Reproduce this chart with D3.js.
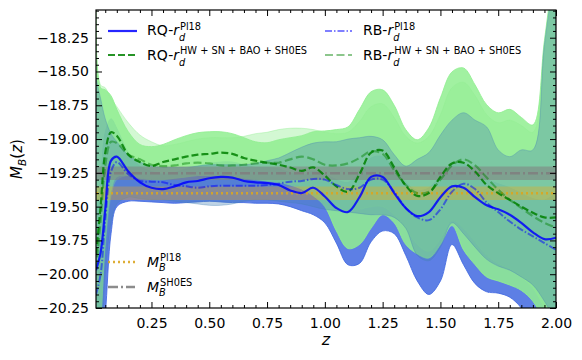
<!DOCTYPE html>
<html><head><meta charset="utf-8">
<script src="https://cdn.jsdelivr.net/npm/d3@7"></script>
<style>body{margin:0;background:#fff;} svg{display:block;font-family:"DejaVu Sans",sans-serif;}</style>
</head><body><svg id="c" width="582" height="360"></svg>
<script>
// ---------- data ----------
const zKnots = [0.01,0.03,0.05,0.075,0.1,0.15,0.2,0.25,0.3,0.35,0.4,0.45,0.5,0.55,0.6,0.65,0.7,0.75,0.8,0.85,0.9,0.95,1.0,1.05,1.1,1.15,1.2,1.25,1.3,1.35,1.4,1.45,1.5,1.55,1.6,1.65,1.7,1.75,1.8,1.85,1.9,1.95,2.0];

const rqPl18Mean = [-19.97,-19.84,-19.52,-19.16,-19.13,-19.24,-19.32,-19.36,-19.37,-19.35,-19.32,-19.31,-19.29,-19.28,-19.285,-19.31,-19.32,-19.325,-19.34,-19.38,-19.40,-19.36,-19.425,-19.51,-19.54,-19.43,-19.28,-19.28,-19.40,-19.51,-19.57,-19.54,-19.43,-19.35,-19.36,-19.43,-19.49,-19.52,-19.56,-19.62,-19.69,-19.74,-19.73];
const rqPl18Lo = [-20.7,-20.6,-20.3,-19.70,-19.50,-19.46,-19.46,-19.465,-19.47,-19.475,-19.47,-19.465,-19.46,-19.465,-19.47,-19.47,-19.475,-19.475,-19.48,-19.50,-19.53,-19.56,-19.62,-19.77,-19.93,-19.92,-19.76,-19.68,-19.70,-19.86,-20.05,-20.15,-20.05,-19.78,-19.93,-20.07,-20.13,-20.14,-20.17,-20.25,-20.40,-20.55,-20.70];
const rqPl18Hi = [-19.60,-19.30,-18.95,-18.85,-18.92,-19.10,-19.20,-19.24,-19.26,-19.25,-19.22,-19.20,-19.18,-19.17,-19.17,-19.19,-19.21,-19.21,-19.22,-19.25,-19.27,-19.24,-19.26,-19.30,-19.32,-19.25,-19.14,-19.13,-19.22,-19.32,-19.38,-19.36,-19.27,-19.18,-19.18,-19.25,-19.30,-19.33,-19.36,-19.40,-19.44,-19.45,-19.40];

const rbPl18Mean = [-20.15,-20.00,-19.60,-19.24,-19.17,-19.26,-19.31,-19.315,-19.32,-19.34,-19.35,-19.36,-19.35,-19.345,-19.345,-19.345,-19.345,-19.34,-19.33,-19.315,-19.31,-19.295,-19.30,-19.34,-19.37,-19.36,-19.30,-19.30,-19.39,-19.51,-19.58,-19.60,-19.52,-19.39,-19.33,-19.37,-19.47,-19.54,-19.61,-19.67,-19.72,-19.77,-19.82];
const rbPl18Lo = [-20.6,-20.5,-20.0,-19.62,-19.48,-19.43,-19.44,-19.45,-19.45,-19.46,-19.47,-19.48,-19.49,-19.49,-19.48,-19.46,-19.45,-19.45,-19.46,-19.47,-19.48,-19.50,-19.52,-19.53,-19.54,-19.55,-19.56,-19.56,-19.58,-19.66,-19.86,-19.90,-19.80,-19.62,-19.70,-19.80,-19.89,-19.94,-19.97,-20.02,-20.08,-20.2,-20.35];
const rbPl18Hi = [-18.55,-18.70,-18.85,-18.96,-19.02,-19.12,-19.17,-19.20,-19.21,-19.21,-19.21,-19.20,-19.19,-19.19,-19.19,-19.19,-19.18,-19.16,-19.14,-19.10,-19.06,-19.03,-19.02,-19.02,-19.00,-18.99,-18.98,-19.005,-19.115,-19.20,-19.15,-19.10,-18.97,-18.86,-18.805,-18.86,-18.91,-19.08,-19.13,-19.08,-19.08,-18.30,-17.7];

const rqHwMean = [-19.85,-19.50,-19.10,-18.95,-18.975,-19.115,-19.17,-19.20,-19.17,-19.15,-19.13,-19.115,-19.11,-19.10,-19.11,-19.14,-19.16,-19.175,-19.19,-19.21,-19.235,-19.21,-19.27,-19.35,-19.39,-19.26,-19.10,-19.085,-19.21,-19.345,-19.42,-19.40,-19.28,-19.18,-19.175,-19.24,-19.34,-19.40,-19.45,-19.50,-19.545,-19.58,-19.58];
const rqHwLo = [-20.6,-20.35,-19.75,-19.38,-19.28,-19.27,-19.29,-19.30,-19.30,-19.29,-19.28,-19.27,-19.27,-19.27,-19.28,-19.29,-19.30,-19.31,-19.32,-19.34,-19.37,-19.42,-19.50,-19.68,-19.81,-19.78,-19.66,-19.56,-19.62,-19.78,-19.85,-19.88,-19.78,-19.64,-19.82,-19.93,-20.02,-20.05,-20.08,-20.12,-20.20,-20.35,-20.5];
const rqHwHi = [-17.4,-18.62,-18.636,-18.68,-18.78,-18.946,-19.04,-19.056,-19.04,-19.005,-18.975,-18.953,-18.946,-18.946,-18.96,-18.99,-19.02,-19.027,-19.005,-18.99,-18.975,-18.946,-18.94,-18.93,-18.91,-18.78,-18.65,-18.636,-18.75,-18.93,-19.005,-18.916,-18.695,-18.503,-18.474,-18.60,-18.746,-18.806,-18.78,-18.84,-18.895,-18.27,-17.6];

const rbHwMean = [-19.96,-19.60,-19.20,-19.02,-19.03,-19.115,-19.15,-19.19,-19.20,-19.195,-19.18,-19.175,-19.18,-19.195,-19.195,-19.19,-19.18,-19.175,-19.175,-19.15,-19.13,-19.15,-19.19,-19.195,-19.18,-19.14,-19.09,-19.11,-19.23,-19.34,-19.40,-19.39,-19.30,-19.195,-19.15,-19.195,-19.285,-19.375,-19.45,-19.51,-19.57,-19.62,-19.655];
const rbHwLo = [-20.6,-20.3,-19.8,-19.42,-19.30,-19.27,-19.28,-19.29,-19.29,-19.29,-19.28,-19.27,-19.27,-19.27,-19.28,-19.28,-19.29,-19.30,-19.30,-19.32,-19.35,-19.40,-19.45,-19.50,-19.53,-19.52,-19.50,-19.50,-19.56,-19.66,-19.78,-19.83,-19.74,-19.60,-19.66,-19.76,-19.86,-19.92,-19.96,-20.02,-20.10,-20.25,-20.4];
const rbHwHi = [-17.4,-18.60,-18.62,-18.70,-18.76,-18.88,-18.97,-19.02,-19.05,-19.04,-19.02,-19.00,-18.99,-18.99,-18.99,-18.98,-18.96,-18.95,-18.93,-18.92,-18.92,-18.93,-18.95,-18.96,-18.95,-18.87,-18.76,-18.74,-18.84,-18.98,-19.03,-18.98,-18.82,-18.62,-18.58,-18.68,-18.82,-18.88,-18.86,-18.90,-18.95,-18.35,-17.75];

const mbPl18 = -19.401, mbPl18Half = 0.05;
const mbShoes = -19.253, mbShoesHalf = 0.05;

const xTicks = [0.25,0.5,0.75,1.0,1.25,1.5,1.75,2.0];
const yTicks = [-20.25,-20.0,-19.75,-19.5,-19.25,-19.0,-18.75,-18.5,-18.25];

// ---------- chart ----------
const svg = d3.select("#c");
const L=96, R=556, T=10, B=308;
const x = d3.scaleLinear().domain([0.01,2.0]).range([L,R]);
const y = d3.scaleLinear().domain([-20.25,-18.045]).range([B,T]);

svg.append("defs").append("clipPath").attr("id","clip")
  .append("rect").attr("x",L).attr("y",T).attr("width",R-L).attr("height",B-T);
const plot = svg.append("g").attr("clip-path","url(#clip)");

const rows = (lo,hi)=> zKnots.map((z,i)=>({z,lo:lo[i],hi:hi[i]}));
const pts = (v)=> zKnots.map((z,i)=>({z,v:v[i]}));
const curve = d3.curveCatmullRom.alpha(0.5);
const area = d3.area().x(d=>x(d.z)).y0(d=>y(d.lo)).y1(d=>y(d.hi)).curve(curve);
const line = d3.line().x(d=>x(d.z)).y(d=>y(d.v)).curve(curve);

function band(lo,hi,color,op){
  plot.append("path").datum(rows(lo,hi)).attr("d",area)
    .attr("fill",color).attr("fill-opacity",op)
    .attr("stroke",color).attr("stroke-opacity",op).attr("stroke-width",1);
}
band(rqPl18Lo,rqPl18Hi,"#4169e1",0.85);
band(rqHwLo,rqHwHi,"#90ee90",0.85);
band(rbHwLo,rbHwHi,"#90ee90",0.4);
band(rbPl18Lo,rbPl18Hi,"#4682b4",0.35);

// horizontal M_B bands
const zr = [0.01,2.0];
function hband(c,h,color,op){
  plot.append("path").datum(zr.map(z=>({z,lo:c-h,hi:c+h})))
    .attr("d",d3.area().x(d=>x(d.z)).y0(d=>y(d.lo)).y1(d=>y(d.hi)))
    .attr("fill",color).attr("fill-opacity",op);
}
hband(mbPl18,mbPl18Half,"#ffa500",0.3);
hband(mbShoes,mbShoesHalf,"#808080",0.55);

const styles = {
  rqHw:{stroke:"#008000",op:0.85,w:2.2,dash:"7,3"},
  rbHw:{stroke:"#008000",op:0.45,w:2.2,dash:"8,3.5"},
  rbPl:{stroke:"#0000ff",op:0.5,w:2,dash:"7,2,1.5,2"},
  rqPl:{stroke:"#0000ff",op:0.85,w:2.2,dash:null},
  shoes:{stroke:"#808080",op:0.9,w:2.5,dash:"10,3,2,3"},
  pl18:{stroke:"#daa520",op:0.9,w:2.5,dash:"2,3"}
};
function styled(sel,s){
  sel.attr("fill","none").attr("stroke",s.stroke).attr("stroke-opacity",s.op).attr("stroke-width",s.w);
  if(s.dash) sel.attr("stroke-dasharray",s.dash);
  return sel;
}
styled(plot.append("path").datum(zr.map(z=>({z,v:mbShoes}))).attr("d",d3.line().x(d=>x(d.z)).y(d=>y(d.v))),styles.shoes);
styled(plot.append("path").datum(zr.map(z=>({z,v:mbPl18}))).attr("d",d3.line().x(d=>x(d.z)).y(d=>y(d.v))),styles.pl18);
styled(plot.append("path").datum(pts(rqHwMean)).attr("d",line),styles.rqHw);
styled(plot.append("path").datum(pts(rbHwMean)).attr("d",line),styles.rbHw);
styled(plot.append("path").datum(pts(rbPl18Mean)).attr("d",line),styles.rbPl);
styled(plot.append("path").datum(pts(rqPl18Mean)).attr("d",line),styles.rqPl);

// ---------- axes ----------
const fmt = d3.format(".2f");
const xMinor = d3.range(1,41).map(i=>i*0.05).filter(v=>!xTicks.some(t=>Math.abs(t-v)<1e-6));
const yMinor = d3.range(0,45).map(i=>-20.25+i*0.05).filter(v=>v<=-18.045 && !yTicks.some(t=>Math.abs(t-v)<1e-6));

function ax(gen,tr,vals,size,labels){
  const g = svg.append("g").attr("transform",tr)
    .call(gen.tickValues(vals).tickSizeInner(-size).tickSizeOuter(0).tickPadding(labels?7:0)
      .tickFormat(labels?fmt:""));
  g.select(".domain").remove();
  g.selectAll("line").attr("stroke","#000").attr("stroke-width",1);
  g.selectAll("text").attr("font-size",14).attr("fill","#000").attr("font-family","DejaVu Sans");
  return g;
}
ax(d3.axisBottom(x),`translate(0,${B})`,xTicks,6,true).selectAll("text").attr("dy","0.95em");
ax(d3.axisBottom(x),`translate(0,${B})`,xMinor,3,false);
ax(d3.axisTop(x),`translate(0,${T})`,xTicks,6,false);
ax(d3.axisTop(x),`translate(0,${T})`,xMinor,3,false);
ax(d3.axisLeft(y),`translate(${L},0)`,yTicks,6,true);
ax(d3.axisLeft(y),`translate(${L},0)`,yMinor,3,false);
ax(d3.axisRight(y),`translate(${R},0)`,yTicks,6,false);
ax(d3.axisRight(y),`translate(${R},0)`,yMinor,3,false);

svg.append("rect").attr("x",L).attr("y",T).attr("width",R-L).attr("height",B-T)
  .attr("fill","none").attr("stroke","#000").attr("stroke-width",1.2);

// ---------- math text helper ----------
function mathLabel(g,x0,y0,items,fs,supDy,subDy){
  let cx=x0;
  items.forEach(it=>{
    if(it.t!==undefined){
      const t=g.append("text").attr("x",cx).attr("y",y0).attr("font-size",fs)
        .attr("font-style",it.it?"italic":"normal").text(it.t);
      cx+=t.node().getComputedTextLength();
    } else {
      const s=fs*0.7; let w=0;
      if(it.sup){const t=g.append("text").attr("x",cx+1).attr("y",y0+supDy).attr("font-size",s).text(it.sup);
        w=Math.max(w,t.node().getComputedTextLength()+1);}
      if(it.sub){const t=g.append("text").attr("x",cx).attr("y",y0+subDy).attr("font-size",s)
        .attr("font-style","italic").text(it.sub); w=Math.max(w,t.node().getComputedTextLength());}
      cx+=w;
    }
  });
  return cx-x0;
}

// ---------- legends ----------
const leg = svg.append("g");
function legLine(x1,x2,yy,s){
  styled(leg.append("line").attr("x1",x1).attr("x2",x2).attr("y1",yy).attr("y2",yy),s);
}
const supPl = "Pl18", supHW = "HW + SN + BAO + SH0ES";
legLine(108,137,31,styles.rqPl);
mathLabel(leg,147,35,[{t:"RQ-"},{t:"r",it:1},{sub:"d",sup:supPl}],14,-5.5,6);
legLine(108,137,55,styles.rqHw);
mathLabel(leg,147,60,[{t:"RQ-"},{t:"r",it:1},{sub:"d",sup:supHW}],14,-6.5,5.5);
legLine(325,352,31,styles.rbPl);
mathLabel(leg,363,35,[{t:"RB-"},{t:"r",it:1},{sub:"d",sup:supPl}],14,-5.5,6);
legLine(325,352,55,styles.rbHw);
mathLabel(leg,363,60,[{t:"RB-"},{t:"r",it:1},{sub:"d",sup:supHW}],14,-6.5,5.5);

legLine(108,135,262,styles.pl18);
mathLabel(leg,147,267,[{t:"M",it:1},{sub:"B",sup:"Pl18"}],14,-6.5,4);
legLine(108,135,287,styles.shoes);
mathLabel(leg,147,292,[{t:"M",it:1},{sub:"B",sup:"SH0ES"}],14,-6.5,4);

// ---------- axis labels ----------
svg.append("text").attr("x",326).attr("y",345).attr("text-anchor","middle")
  .attr("font-size",16).attr("font-style","italic").text("z");
const yl = svg.append("g");
const wy = mathLabel(yl,0,0,[{t:"M",it:1},{sub:"B"},{t:"("},{t:"z",it:1},{t:")"}],15,0,4);
yl.attr("transform",`translate(22,${159+wy/2}) rotate(-90)`);
</script></body></html>
